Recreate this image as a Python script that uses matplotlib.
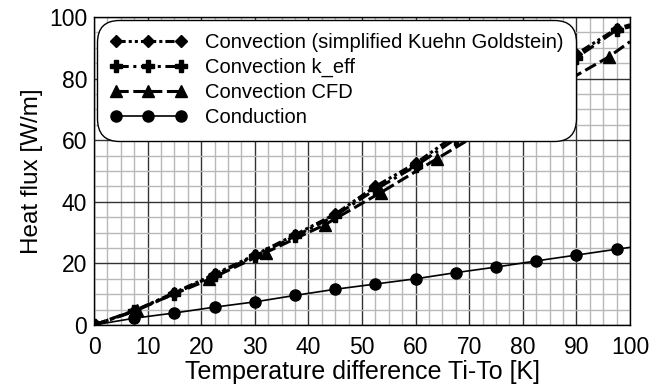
import matplotlib
matplotlib.use("Agg")
import matplotlib.pyplot as plt
from matplotlib.lines import Line2D
from matplotlib.ticker import MultipleLocator

plt.rcParams["font.family"] = ["Liberation Sans", "DejaVu Sans"]

# Heat flux vs temperature difference
dT_kg = [0, 7.5, 15, 22.5, 30, 37.5, 45, 52.5, 60, 67.5, 75, 82.5, 90, 97.5, 100]
q_kg = [0, 4.6, 10.5, 16.5, 22.7, 29.3, 36.0, 45.0, 52.5, 61.7, 69.5, 79.5, 88.0, 96.2, 97.5]

dT_keff = [0, 7.5, 15, 22.5, 30, 37.5, 45, 52.5, 60, 67.5, 75, 82.5, 90, 97.5, 100]
q_keff = [0, 4.4, 10.2, 16.2, 22.4, 28.8, 35.5, 44.0, 51.6, 60.5, 68.5, 78.0, 86.8, 95.8, 96.8]

dT_cfd = [0, 8, 21.5, 32, 43, 53.5, 64, 74.5, 84.5, 96, 100]
q_cfd = [0, 5.0, 14.8, 23.5, 32.5, 43.0, 54.0, 65.0, 75.6, 87.0, 92.0]

dT_cond = [0, 7.5, 15, 22.5, 30, 37.5, 45, 52.5, 60, 67.5, 75, 82.5, 90, 97.5, 100]
q_cond = [0, 2.2, 3.9, 5.8, 7.5, 9.6, 11.6, 13.3, 15.0, 17.0, 18.8, 20.8, 22.7, 24.6, 25.2]

labels = ["Convection (simplified Kuehn Goldstein)", "Convection k_eff",
          "Convection CFD", "Conduction"]

styles = [
    dict(lw=2.2, ls=(0, (3, 1, 1, 1, 1, 1)), marker="D", ms=6),
    dict(lw=2.2, ls=(0, (4, 1.5, 1, 1.5)), marker="P", ms=8),
    dict(lw=2.2, ls=(0, (4, 1.5)), marker="^", ms=8),
    dict(lw=1.2, ls="-", marker="o", ms=8),
]
series = [(dT_kg, q_kg), (dT_keff, q_keff), (dT_cfd, q_cfd), (dT_cond, q_cond)]

fig = plt.figure(figsize=(6.52, 3.90), dpi=100)
ax = fig.add_axes([0.1442, 0.1667, 0.8221, 0.7897])

handles = []
for (x, y), st, lab in zip(series, styles, labels):
    # the last point only carries the line out to the right edge
    ax.plot(x, y, color="black", ls=st["ls"], lw=st["lw"], zorder=4)
    ax.plot(x[:-1], y[:-1], color="black", ls="none", marker=st["marker"],
            ms=st["ms"], zorder=5)
    handles.append(Line2D([], [], color="black", **st, label=lab))

ax.set_xlim(0, 100)
ax.set_ylim(0, 100)
ax.xaxis.set_major_locator(MultipleLocator(10))
ax.xaxis.set_minor_locator(MultipleLocator(2.5))
ax.yaxis.set_major_locator(MultipleLocator(20))
ax.yaxis.set_minor_locator(MultipleLocator(5))
ax.grid(which="minor", color="#b8b8b8", lw=1.0)
ax.grid(which="major", color="#333333", lw=1.0)
ax.set_axisbelow(True)
ax.tick_params(which="both", length=0, labelsize=16.5)
ax.tick_params(axis="x", pad=8)
ax.tick_params(axis="y", pad=5)
for s in ax.spines.values():
    s.set_linewidth(1.0)

ax.set_xlabel("Temperature difference Ti-To [K]", fontsize=18, labelpad=1)
ax.set_ylabel("Heat flux [W/m]", fontsize=17.5, labelpad=4)

leg = ax.legend(handles=handles, loc="upper left", fontsize=14.5, numpoints=3,
                frameon=True, fancybox=True, edgecolor="black", framealpha=1,
                handlelength=3.8, handletextpad=0.9, borderaxespad=0.45,
                borderpad=0.35, labelspacing=0.3)
leg.get_frame().set_linewidth(1.0)
leg.get_frame().set_boxstyle("round,pad=0.3,rounding_size=1.1")

fig.savefig("out.png", dpi=100)
